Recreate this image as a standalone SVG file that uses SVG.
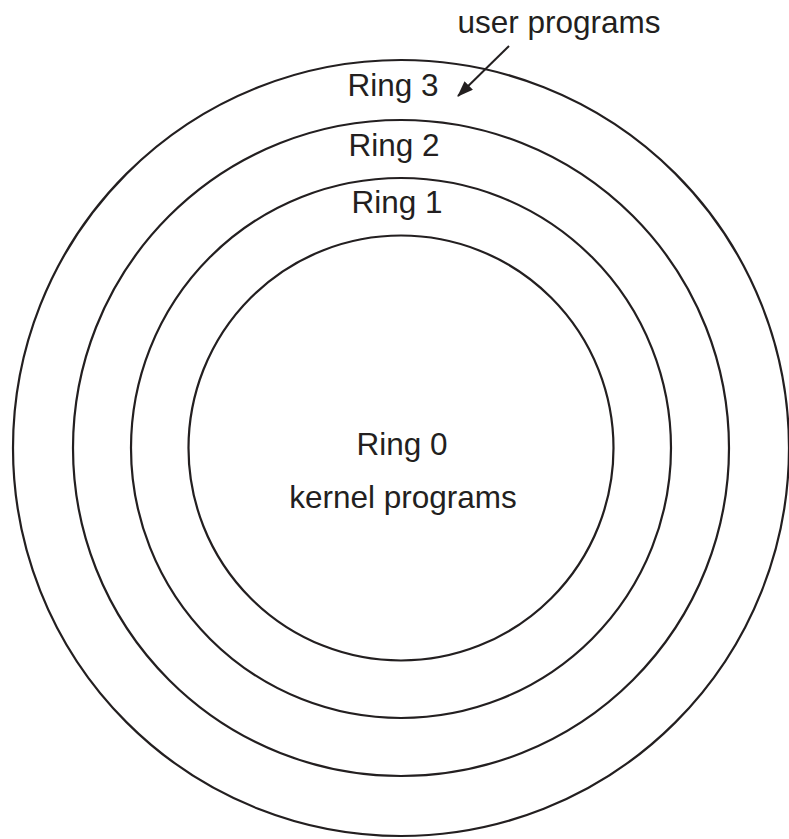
<svg xmlns="http://www.w3.org/2000/svg" width="789" height="839" viewBox="0 0 789 839">
<style>
.ring{fill:none;stroke:#231f20;stroke-width:2.2}
text{font-family:"Liberation Sans",Arial,sans-serif;font-size:31.5px;fill:#231f20;text-anchor:middle}
</style>
<defs>
<marker id="ah" viewBox="0 0 16 12" refX="15" refY="6" markerWidth="16" markerHeight="12" markerUnits="userSpaceOnUse" orient="auto">
<path d="M0,0 L16,6 L0,12 z" fill="#231f20"/>
</marker>
</defs>
<rect width="789" height="839" fill="#fff"/>
<g id="ring3"><circle class="ring" cx="401" cy="448" r="388"/><text x="393" y="96">Ring 3</text></g>
<g id="ring2"><circle class="ring" cx="401" cy="448" r="328"/><text x="394" y="156">Ring 2</text></g>
<g id="ring1"><circle class="ring" cx="401" cy="448" r="270"/><text x="397" y="213">Ring 1</text></g>
<g id="ring0"><circle class="ring" cx="401" cy="448" r="212.5"/><text x="402" y="455">Ring 0</text><text x="403" y="508">kernel programs</text></g>
<g id="user"><text x="559" y="33">user programs</text></g>
<g id="connectors"><line x1="509" y1="46" x2="458" y2="96" stroke="#231f20" stroke-width="2" marker-end="url(#ah)"/></g>
</svg>
